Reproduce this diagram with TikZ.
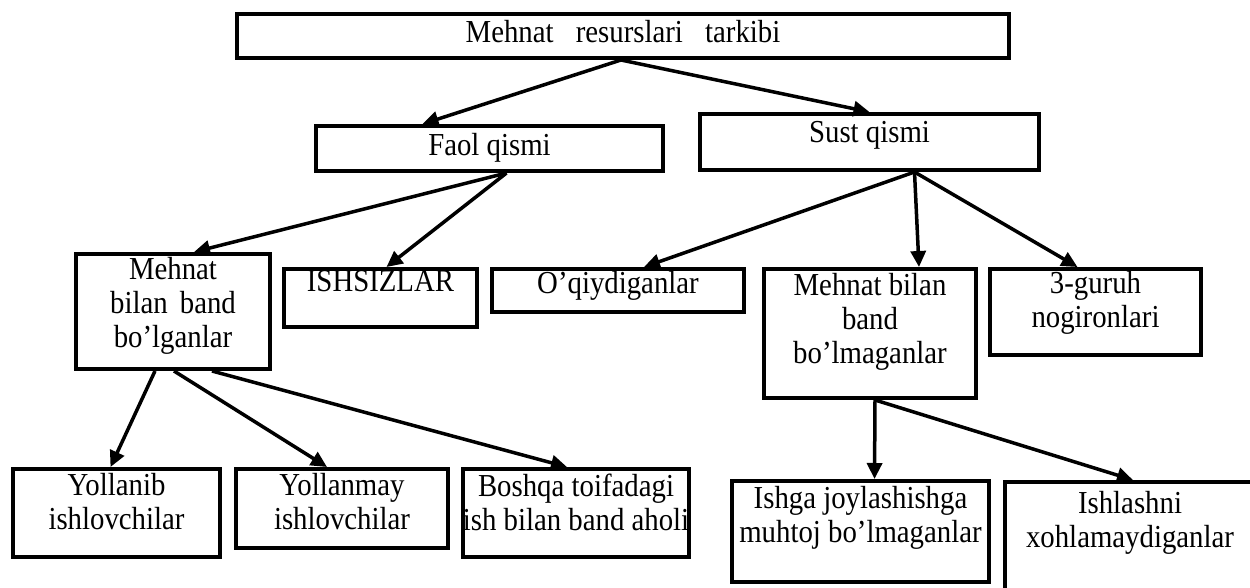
\documentclass[tikz,border=0pt]{standalone}
\usepackage{fontspec}
\setmainfont[FakeStretch=0.9]{Liberation Serif}
\usetikzlibrary{arrows.meta}
\newcommand{\shrift}{\fontsize{32}{34}\selectfont}
\tikzset{quti/.style={draw, line width=4pt, anchor=north west, inner sep=0pt},
        matn/.style={anchor=north, inner sep=0pt, align=center, font=\shrift},
        strelka/.style={line width=3.5pt, -{Triangle[length=16pt,width=15pt]}},
        }

\begin{document}
\begin{tikzpicture}[x=1pt,y=-1pt]
    \useasboundingbox (0,0) rectangle (1250,587);

    % yuqori daraja
    \node[quti, minimum width=772pt, minimum height=44pt,
          label={[matn,yshift=-8.5pt]north:Mehnat\hspace{15pt} resurslari\hspace{15pt} tarkibi}] (resurs) at (235,12) {};
    \node[quti, minimum width=347pt, minimum height=45pt,
          label={[matn,yshift=-9.5pt]north:Faol qismi}] (faol) at (314,124) {};
    \node[quti, minimum width=339pt, minimum height=56pt,
          label={[matn,yshift=-9.5pt]north:Sust qismi}] (sust) at (698,112) {};

    % o'rta daraja
    \node[quti, minimum width=194pt, minimum height=115pt,
          label={[matn,yshift=-5.5pt]north:Mehnat\\bilan\hspace{5pt} band\\bo’lganlar}] (band) at (74,252) {};
    \node[quti, minimum width=193pt, minimum height=58pt,
          label={[matn,yshift=-3.5pt]north:ISHSIZLAR}] (ishsiz) at (282,267) {};
    \node[quti, minimum width=252pt, minimum height=43pt,
          label={[matn,yshift=-4.5pt]north:O’qiydiganlar}] (oqiy) at (490,267) {};
    \node[quti, minimum width=212pt, minimum height=129pt,
          label={[matn,yshift=-6.5pt]north:Mehnat bilan\\band\\bo’lmaganlar}] (bandmas) at (762,267) {};
    \node[quti, minimum width=211pt, minimum height=86pt,
          label={[matn,yshift=-4.5pt]north:3-guruh\\nogironlari}] (nogiron) at (988,267) {};

    % quyi daraja
    \node[quti, minimum width=207pt, minimum height=88pt,
          label={[matn,yshift=-6.5pt]north:Yollanib\\ishlovchilar}] (yollanib) at (11,467) {};
    \node[quti, minimum width=212pt, minimum height=79pt,
          label={[matn,yshift=-6.5pt]north:Yollanmay\\ishlovchilar}] (yollanmay) at (234,467) {};
    \node[quti, minimum width=226pt, minimum height=88pt,
          label={[matn,yshift=-6.5pt]north:Boshqa toifadagi\\ish bilan band aholi}] (boshqa) at (461,467) {};
    \node[quti, minimum width=257pt, minimum height=101pt,
          label={[matn,yshift=-7.5pt]north:Ishga joylashishga\\muhtoj bo’lmaganlar}] (ishga) at (730,479) {};
    \node[quti, minimum width=250pt, minimum height=130pt,
          label={[matn,yshift=-11.5pt]north:Ishlashni\\xohlamaydiganlar}] (ishlash) at (1003,480) {};

    % strelkalar
    \draw[strelka] ([xshift=-2pt]resurs.south) -- ([xshift=-67pt]faol.north);
    \draw[strelka] ([xshift=-2pt]resurs.south) -- (sust.north);
    \draw[strelka] ([xshift=17pt]faol.south) -- ([xshift=21pt]band.north);
    \draw[strelka] ([xshift=17pt]faol.south) -- ([xshift=6pt]ishsiz.north);
    \draw[strelka] ([xshift=45pt]sust.south) -- ([xshift=26pt]oqiy.north);
    \draw[strelka] ([xshift=45pt]sust.south) -- ([xshift=49pt]bandmas.north);
    \draw[strelka] ([xshift=45pt]sust.south) -- ([xshift=-18pt]nogiron.north);
    \draw[strelka] ([xshift=-18pt]band.south) -- ([xshift=-6pt]yollanib.north);
    \draw[strelka] ([xshift=1pt]band.south) -- ([xshift=-15pt]yollanmay.north);
    \draw[strelka] ([xshift=39pt]band.south) -- ([xshift=-9pt]boshqa.north);
    \draw[strelka] ([xshift=5pt]bandmas.south) -- ([xshift=14pt]ishga.north);
    \draw[strelka] ([xshift=5pt]bandmas.south) -- ([xshift=3pt]ishlash.north);
\end{tikzpicture}
\end{document}
